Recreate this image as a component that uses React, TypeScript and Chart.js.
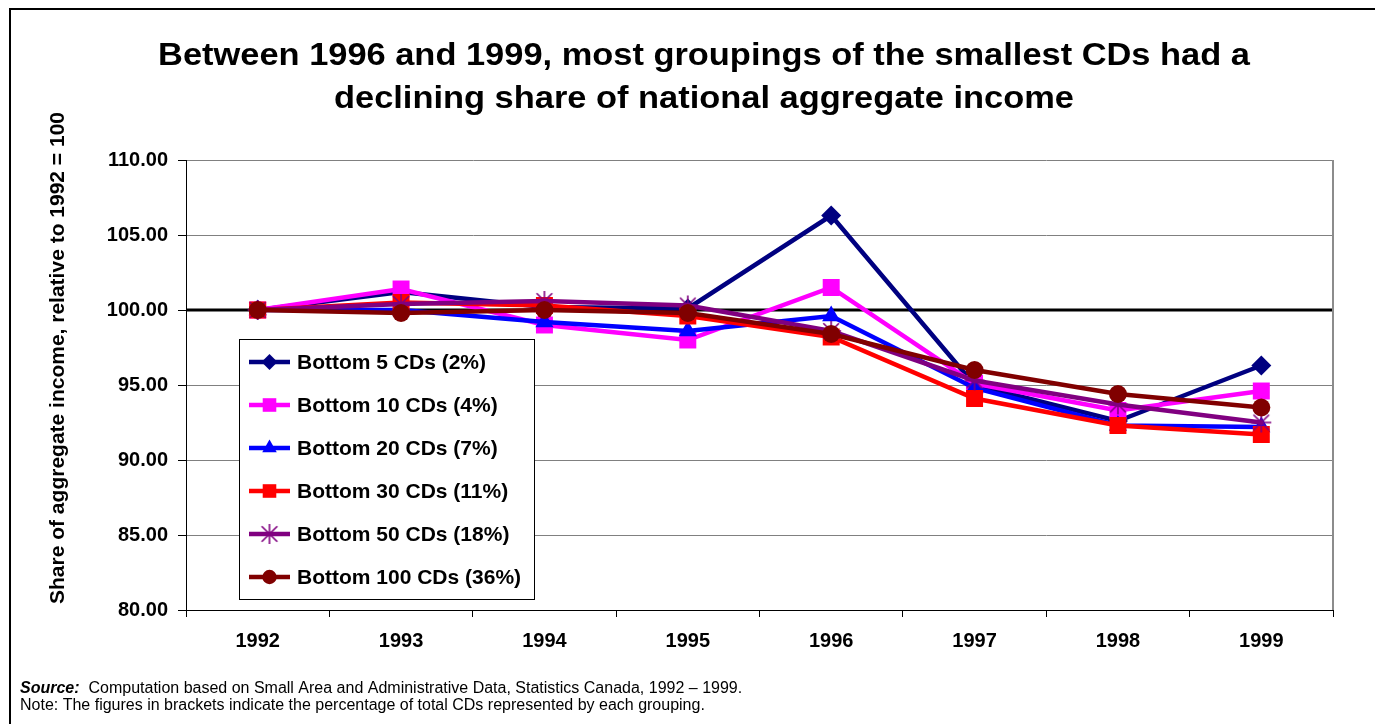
import React, { useEffect, useRef } from 'react';
import { Chart, registerables } from 'chart.js';

Chart.register(...registerables);

// ---- data ----
const years = ['1992', '1993', '1994', '1995', '1996', '1997', '1998', '1999'];
const bottom5 = [100.0, 101.2, 100.2, 100.1, 106.3, 95.0, 92.6, 96.3];
const bottom10 = [100.0, 101.4, 99.0, 98.0, 101.5, 95.1, 93.3, 94.6];
const bottom20 = [100.0, 100.0, 99.2, 98.6, 99.6, 94.8, 92.3, 92.2];
const bottom30 = [100.0, 100.5, 100.3, 99.6, 98.2, 94.1, 92.3, 91.7];
const bottom50 = [100.0, 100.4, 100.6, 100.3, 98.6, 95.3, 93.7, 92.5];
const bottom100 = [100.0, 99.8, 100.0, 99.8, 98.4, 96.0, 94.4, 93.5];
const seriesLabels = [
  'Bottom 5 CDs (2%)',
  'Bottom 10 CDs (4%)',
  'Bottom 20 CDs (7%)',
  'Bottom 30 CDs (11%)',
  'Bottom 50 CDs (18%)',
  'Bottom 100 CDs (36%)',
];
const referenceValue = 100;
const yMin = 80;
const yMax = 110;
const yStep = 5;

const titleLines = [
  'Between 1996 and 1999, most groupings of the smallest CDs had a',
  'declining share of national aggregate income',
];
const yAxisTitle = 'Share of aggregate income, relative to 1992 = 100';
const sourceLabel = 'Source:';
const sourceText = '  Computation based on Small Area and Administrative Data, Statistics Canada, 1992 \u2013 1999.';
const noteText = 'Note: The figures in brackets indicate the percentage of total CDs represented by each grouping.';

const FONT = '"Liberation Sans", Arial, Helvetica, sans-serif';

const colors = ['#000080', '#FF00FF', '#0000FF', '#FF0000', '#800080', '#800000'];
const styles = ['rectRot', 'rect', 'triangle', 'rect', 'star', 'circle'];
const radii = [10, 12, 10.5, 12, 10, 9];

function makeAsterisk(color: string, size: number) {
  const c = document.createElement('canvas');
  c.width = size;
  c.height = size;
  const g = c.getContext('2d')!;
  const m = size / 2;
  const r = size / 2 - 1;
  g.strokeStyle = color;
  g.lineWidth = 1.6;
  g.beginPath();
  g.moveTo(m, m - r);
  g.lineTo(m, m + r);
  const d = r * 0.78;
  g.moveTo(m - d, m - d);
  g.lineTo(m + d, m + d);
  g.moveTo(m + d, m - d);
  g.lineTo(m - d, m + d);
  g.moveTo(m - r, m);
  g.lineTo(m + r, m);
  g.stroke();
  return c;
}

function drawMarker(ctx: CanvasRenderingContext2D, idx: number, x: number, y: number, scale: number, star: HTMLCanvasElement) {
  const color = colors[idx];
  const r = radii[idx] * scale;
  ctx.save();
  ctx.fillStyle = color;
  ctx.beginPath();
  switch (idx) {
    case 0:
      ctx.moveTo(x - r, y);
      ctx.lineTo(x, y - r);
      ctx.lineTo(x + r, y);
      ctx.lineTo(x, y + r);
      ctx.closePath();
      ctx.fill();
      break;
    case 1:
    case 3: {
      const s = r * Math.SQRT1_2;
      ctx.fillRect(x - s, y - s, 2 * s, 2 * s);
      break;
    }
    case 2: {
      ctx.moveTo(x, y - r);
      ctx.lineTo(x + r * 0.866, y + r * 0.5);
      ctx.lineTo(x - r * 0.866, y + r * 0.5);
      ctx.closePath();
      ctx.fill();
      break;
    }
    case 4:
      ctx.drawImage(star, x - star.width / 2, y - star.height / 2);
      break;
    case 5:
      ctx.arc(x, y, r, 0, Math.PI * 2);
      ctx.fill();
      break;
  }
  ctx.restore();
}

export default function App() {
  const ref = useRef<HTMLCanvasElement | null>(null);

  useEffect(() => {
    const canvas = ref.current;
    if (!canvas) return;
    const star = makeAsterisk('#800080', 22);
    const allSeries = [bottom5, bottom10, bottom20, bottom30, bottom50, bottom100];

    const decor = {
      id: 'decor',
      beforeDatasetsDraw(chart: any) {
        const { ctx, chartArea, scales } = chart;
        const y = scales.y.getPixelForValue(referenceValue);
        ctx.save();
        ctx.strokeStyle = '#000';
        ctx.lineWidth = 3;
        ctx.beginPath();
        ctx.moveTo(chartArea.left, y);
        ctx.lineTo(chartArea.right, y);
        ctx.stroke();
        ctx.strokeStyle = '#8c8c8c';
        ctx.lineWidth = 2;
        ctx.beginPath();
        ctx.moveTo(chartArea.right, chartArea.top);
        ctx.lineTo(chartArea.right, chartArea.bottom);
        ctx.stroke();
        ctx.restore();
      },
      afterDraw(chart: any) {
        const { ctx, chartArea } = chart;
        ctx.save();
        // outer frame
        ctx.strokeStyle = '#000';
        ctx.lineWidth = 2;
        ctx.strokeRect(10, 9, 1500, 900);

        // title
        ctx.fillStyle = '#000';
        ctx.font = `bold 31px ${FONT}`;
        ctx.textAlign = 'center';
        ctx.textBaseline = 'alphabetic';
        const sx = 1.11;
        titleLines.forEach((t, i) => {
          ctx.save();
          ctx.translate(704, 65 + i * 43);
          ctx.scale(sx, 1);
          ctx.fillText(t, 0, 0);
          ctx.restore();
        });

        // y axis title
        ctx.save();
        ctx.translate(64, 358);
        ctx.rotate(-Math.PI / 2);
        ctx.font = `bold 21px ${FONT}`;
        ctx.textAlign = 'center';
        ctx.textBaseline = 'alphabetic';
        ctx.fillText(yAxisTitle, 0, 0);
        ctx.restore();

        // legend
        const lx = chartArea.left + 53;
        const ly = 339;
        const lw = 295;
        const lh = 260;
        ctx.fillStyle = '#fff';
        ctx.fillRect(lx, ly, lw, lh);
        ctx.strokeStyle = '#000';
        ctx.lineWidth = 1;
        ctx.strokeRect(lx + 0.5, ly + 0.5, lw, lh);
        ctx.font = `bold 21px ${FONT}`;
        ctx.textAlign = 'left';
        ctx.textBaseline = 'middle';
        seriesLabels.forEach((lab, i) => {
          const ry = ly + 23 + i * 43;
          ctx.strokeStyle = colors[i];
          ctx.lineWidth = 4.5;
          ctx.beginPath();
          ctx.moveTo(lx + 10, ry);
          ctx.lineTo(lx + 51, ry);
          ctx.stroke();
          drawMarker(ctx, i, lx + 30.5, ry, 0.8, star);
          ctx.fillStyle = '#000';
          ctx.fillText(lab, lx + 58, ry + 1);
        });

        // footer
        ctx.textBaseline = 'alphabetic';
        ctx.textAlign = 'left';
        ctx.fillStyle = '#000';
        ctx.font = `italic bold 16px ${FONT}`;
        ctx.fillText(sourceLabel, 20, 693);
        const w = ctx.measureText(sourceLabel).width;
        ctx.font = `16px ${FONT}`;
        ctx.fillText(sourceText, 20 + w, 693);
        ctx.fillText(noteText, 20, 710);
        ctx.restore();
      },
    };

    const datasets = allSeries.map((data, i) => ({
      label: seriesLabels[i],
      data,
      borderColor: colors[i],
      backgroundColor: colors[i],
      borderWidth: 4.5,
      pointStyle: i === 4 ? (star as any) : (styles[i] as any),
      pointRadius: radii[i],
      pointBorderWidth: 0,
      pointBackgroundColor: colors[i],
      pointBorderColor: colors[i],
      tension: 0,
      order: 6 - i,
    }));

    const chart = new Chart(canvas, {
      type: 'line',
      data: { labels: years, datasets },
      options: {
        responsive: false,
        animation: false,
        events: [],
        layout: { padding: { top: 160, right: 42, bottom: 0, left: 0 } },
        plugins: {
          legend: { display: false },
          title: { display: false },
          tooltip: { enabled: false },
        },
        scales: {
          x: {
            type: 'category',
            offset: true,
            afterFit(scale: any) {
              scale.height = 114;
            },
            grid: {
              offset: true,
              drawOnChartArea: false,
              drawTicks: true,
              tickLength: 7,
              color: '#000',
            },
            border: { color: '#000', width: 1 },
            ticks: {
              color: '#000',
              padding: 12,
              font: { family: FONT, size: 20, weight: 'bold' },
              maxRotation: 0,
            },
          },
          y: {
            min: yMin,
            max: yMax,
            afterFit(scale: any) {
              scale.width = 186;
            },
            grid: {
              color: '#808080',
              tickColor: '#000',
              tickLength: 8,
              lineWidth: 1,
            },
            border: { color: '#000', width: 1 },
            ticks: {
              stepSize: yStep,
              color: '#000',
              padding: 10,
              font: { family: FONT, size: 20, weight: 'bold' },
              callback: (v: any) => Number(v).toFixed(2),
            },
          },
        },
      },
      plugins: [decor],
    });

    return () => chart.destroy();
  }, []);

  return (
    <div style={{ position: 'fixed', left: 0, top: 0, width: 1375, height: 724, background: '#fff' }}>
      <canvas ref={ref} width={1375} height={724} style={{ display: 'block', width: 1375, height: 724 }} />
    </div>
  );
}
